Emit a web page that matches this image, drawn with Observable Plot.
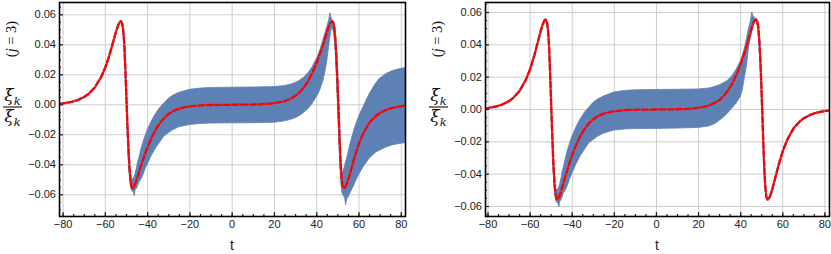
<!DOCTYPE html>
<html>
<head>
<meta charset="utf-8">
<script src="https://cdn.jsdelivr.net/npm/d3@7"></script>
<script src="https://cdn.jsdelivr.net/npm/@observablehq/plot@0.6"></script>
<style>
  html, body { margin: 0; padding: 0; background: #fff; }
  #wrap { position: relative; width: 831px; height: 254px; overflow: hidden; }
  #left, #right { position: absolute; top: 0; }
  #left { left: 0; }
  #right { left: 415px; }
</style>
</head>
<body>
<div id="wrap"><div id="left"></div><div id="right"></div></div>
<script>
// ---- tick labels ----
const xTicks = [-80, -60, -40, -20, 0, 20, 40, 60, 80];
const xMinor = [-80,-75,-70,-65,-60,-55,-50,-45,-40,-35,-30,-25,-20,-15,-10,-5,0,5,10,15,20,25,30,35,40,45,50,55,60,65,70,75,80];
const yTicks = [-0.06, -0.04, -0.02, 0, 0.02, 0.04, 0.06];
const yMinor = [-0.07,-0.065,-0.06,-0.055,-0.05,-0.045,-0.04,-0.035,-0.03,-0.025,-0.02,-0.015,-0.01,-0.005,0,0.005,0.01,0.015,0.02,0.025,0.03,0.035,0.04,0.045,0.05,0.055,0.06,0.065];

// ---- smooth (red dashed) curve, shared by both panels ----
const tRed = [-82,-80,-76,-73,-70,-68,-65,-62,-60,-58,-57,-56,-55,-54,-53.2,-52.6,-52,-51.5,-51,-50.5,-50,-49.5,-49,-48.5,-48,-47.5,-47,-46.3,-45.5,-44.5,-43,-41,-40,-38,-36,-34,-32,-30,-28,-26,-24,-20,-16,-12,-6,0,6,12,16,20,24,26,28,30,32,34,36,38,40,41,43,44.5,45.5,46.3,47.2,47.8,48.3,48.8,49.3,49.8,50.3,50.8,51.3,51.8,52.2,52.8,53.4,54.2,55.2,56.2,57.2,58.2,60.2,62.2,65.2,68.2,70.2,73.2,76.2,80.2,82.5];
const yRed = [0.0006,0.0009,0.0019,0.0032,0.0052,0.0072,0.0115,0.0185,0.025,0.0335,0.0385,0.0435,0.0485,0.0528,0.0552,0.0557,0.054,0.049,0.039,0.022,0.003,-0.016,-0.032,-0.044,-0.0515,-0.055,-0.0557,-0.0545,-0.0515,-0.047,-0.04,-0.032,-0.028,-0.0215,-0.016,-0.0118,-0.0085,-0.006,-0.0043,-0.003,-0.0021,-0.0011,-0.0005,-0.0002,-0.0001,0,0.0001,0.0002,0.0005,0.0011,0.0021,0.003,0.0043,0.006,0.0085,0.0118,0.016,0.0215,0.028,0.032,0.04,0.047,0.0515,0.0545,0.0557,0.055,0.0515,0.044,0.032,0.016,-0.003,-0.022,-0.039,-0.049,-0.054,-0.0557,-0.0552,-0.0528,-0.0485,-0.0435,-0.0385,-0.0335,-0.025,-0.0185,-0.0115,-0.0072,-0.0052,-0.0032,-0.0019,-0.0009,-0.0006];

// ---- oscillation envelope, left panel ----
const tBandL = [-49,-48.5,-48,-47.5,-47,-46.5,-46.1,-45.7,-45,-44.5,-44,-43,-42,-41,-40,-38,-36,-34,-32,-30,-28,-25,-20,-15,-10,0,10,20,25,28,30,32,34,36,38,40,41,42,43,44,45,45.8,46.5,47,47.6,48.2,48.7,49.2,49.7,50.2,50.7,51.2,51.7,52.2,52.8,53.4,53.9,54.4,55,56,57,58,60,62,65,68,70,73,76,80,82.5];
const hiL = [-0.032,-0.043,-0.048,-0.05,-0.05,-0.049,-0.048,-0.046,-0.042,-0.038,-0.036,-0.03,-0.025,-0.021,-0.017,-0.011,-0.006,-0.002,0.001,0.004,0.006,0.008,0.01,0.0108,0.0112,0.0114,0.0115,0.0118,0.0125,0.0135,0.0145,0.016,0.018,0.021,0.025,0.0305,0.0335,0.0375,0.0425,0.047,0.052,0.056,0.061,0.058,0.056,0.053,0.046,0.034,0.018,-0.001,-0.018,-0.032,-0.042,-0.045,-0.044,-0.041,-0.038,-0.036,-0.032,-0.026,-0.021,-0.016,-0.008,-0.002,0.007,0.014,0.0175,0.0205,0.0225,0.024,0.0245];
const loL = [-0.032,-0.046,-0.054,-0.057,-0.058,-0.058,-0.061,-0.057,-0.056,-0.054,-0.052,-0.05,-0.047,-0.043,-0.04,-0.034,-0.029,-0.025,-0.021,-0.019,-0.017,-0.015,-0.0135,-0.0128,-0.0125,-0.0124,-0.0123,-0.012,-0.011,-0.01,-0.009,-0.0075,-0.0055,-0.003,0.0005,0.005,0.0075,0.011,0.015,0.021,0.029,0.038,0.045,0.05,0.051,0.048,0.042,0.03,0.014,-0.005,-0.025,-0.042,-0.054,-0.059,-0.061,-0.062,-0.067,-0.063,-0.062,-0.059,-0.056,-0.053,-0.047,-0.042,-0.036,-0.032,-0.0305,-0.0285,-0.027,-0.026,-0.0255];

// ---- oscillation envelope, right panel ----
const tBandR = [-49,-48.5,-48,-47.5,-47,-46.5,-46.1,-45.7,-45,-44.5,-44,-43,-42,-41,-40,-38,-36,-34,-32,-30,-28,-25,-20,-15,-10,0,10,20,25,28,30,32,34,36,38,40,41,42,43,44,44.8,45.5,46,46.8,47.5,48.2];
const hiR = [-0.032,-0.043,-0.048,-0.05,-0.05,-0.049,-0.048,-0.046,-0.042,-0.038,-0.036,-0.03,-0.025,-0.021,-0.017,-0.011,-0.006,-0.002,0.001,0.004,0.006,0.008,0.0105,0.0115,0.0119,0.0121,0.0122,0.0124,0.013,0.014,0.015,0.0163,0.0178,0.0205,0.0245,0.0295,0.033,0.0376,0.044,0.0505,0.054,0.06,0.058,0.0562,0.056,0.0525];
const loR = [-0.032,-0.046,-0.054,-0.057,-0.058,-0.058,-0.0605,-0.057,-0.056,-0.054,-0.052,-0.05,-0.047,-0.043,-0.04,-0.034,-0.029,-0.025,-0.021,-0.019,-0.017,-0.015,-0.013,-0.0124,-0.0121,-0.012,-0.0118,-0.0114,-0.0105,-0.009,-0.007,-0.005,-0.0025,0.0005,0.0035,0.0076,0.012,0.0195,0.027,0.0385,0.044,0.048,0.0515,0.054,0.0548,0.052];

const BLUE = "#5E81B5";
const RED = "#ff0000";
const redData = tRed.map((t, i) => ({t, y: yRed[i]}));
const bandL = tBandL.map((t, i) => ({t, hi: hiL[i], lo: loL[i]}));
const bandR = tBandR.map((t, i) => ({t, hi: hiR[i], lo: loR[i]}));

function panel({width, marginLeft, marginRight, xDomain, yDomain, band}) {
  const fmtX = d3.format("d");
  const fmtY = d3.format(".2f");
  const svg = Plot.plot({
    width, height: 254,
    marginLeft, marginRight, marginTop: 2, marginBottom: 38,
    style: {fontFamily: "'Liberation Sans', Arial, sans-serif", fontSize: "11px", background: "white", color: "#222", overflow: "visible"},
    x: {domain: xDomain},
    y: {domain: yDomain},
    marks: [
      Plot.gridX(xTicks, {stroke: "#cdcdcd", strokeOpacity: 1, strokeWidth: 1}),
      Plot.gridY(yTicks, {stroke: "#cdcdcd", strokeOpacity: 1, strokeWidth: 1}),
      Plot.areaY(band, {x: "t", y1: "lo", y2: "hi", fill: BLUE, stroke: BLUE, strokeWidth: 0.8, clip: true}),
      Plot.line(redData, {x: "t", y: "y", stroke: BLUE, strokeWidth: 2.2, clip: true}),
      Plot.line(redData, {x: "t", y: "y", stroke: RED, strokeWidth: 2.3, strokeDasharray: "6,2.6", clip: true}),
      Plot.frame({stroke: "#000", strokeWidth: 1.6}),
      Plot.axisX(xTicks, {tickSize: 0, tickPadding: 4, tickFormat: fmtX, label: null}),
      Plot.axisX(xTicks, {tickSize: -4, tickFormat: () => "", label: null, strokeWidth: 1.2}),
      Plot.axisX(xMinor, {tickSize: -2, tickFormat: () => "", label: null, strokeWidth: 1.2}),
      Plot.axisY(yTicks, {tickSize: 0, tickPadding: 3.5, tickFormat: fmtY, label: null}),
      Plot.axisY(yTicks, {tickSize: -4, tickFormat: () => "", label: null, strokeWidth: 1.2}),
      Plot.axisY(yMinor.filter(v => v >= yDomain[0] && v <= yDomain[1]), {tickSize: -2, tickFormat: () => "", label: null, strokeWidth: 1.2})
    ]
  });
  const s = d3.select(svg);
  const cx = marginLeft - 46.5;   // centre of the label column
  const serif = "'DejaVu Serif', 'Liberation Serif', serif";
  const lab = s.append("g").attr("font-family", serif).attr("fill", "#111");
  // (j = 3), rotated
  const jt = lab.append("text")
    .attr("transform", `translate(${cx + 3},39) rotate(-90)`)
    .attr("text-anchor", "middle").attr("font-size", 14.5)
    .attr("font-family", "'Liberation Serif', serif");
  jt.append("tspan").text("(");
  jt.append("tspan").attr("font-style", "italic").text("j");
  jt.append("tspan").text(" = 3)");
  // numerator  ξ̇_k  (combining dot above)
  const num = lab.append("text").attr("x", cx).attr("y", 101)
    .attr("text-anchor", "middle").attr("font-size", 17).attr("font-style", "italic");
  num.append("tspan").text("\u03BE\u0307");
  num.append("tspan").attr("font-size", 11.5).attr("dy", 3.5).text("k");
  lab.append("line").attr("x1", cx - 9.5).attr("x2", cx + 9.5).attr("y1", 107).attr("y2", 107)
    .attr("stroke", "#111").attr("stroke-width", 1.1);
  const den = lab.append("text").attr("x", cx).attr("y", 122)
    .attr("text-anchor", "middle").attr("font-size", 17).attr("font-style", "italic");
  den.append("tspan").text("\u03BE");
  den.append("tspan").attr("font-size", 11.5).attr("dy", 3.5).text("k");
  // x label
  s.append("text").attr("x", marginLeft + (width - marginLeft - marginRight) / 2).attr("y", 250)
    .attr("text-anchor", "middle").attr("font-family", "'Liberation Sans', Arial, sans-serif")
    .attr("font-size", 14).attr("fill", "#222").text("t");
  return svg;
}

document.getElementById("left").appendChild(panel({
  width: 415, marginLeft: 59, marginRight: 10,
  xDomain: [-81.7, 82.0], yDomain: [-0.0745, 0.0682], band: bandL
}));
document.getElementById("right").appendChild(panel({
  width: 416, marginLeft: 70, marginRight: 2,
  xDomain: [-81.2, 82.2], yDomain: [-0.0662, 0.0662], band: bandR
}));
</script>
</body>
</html>
